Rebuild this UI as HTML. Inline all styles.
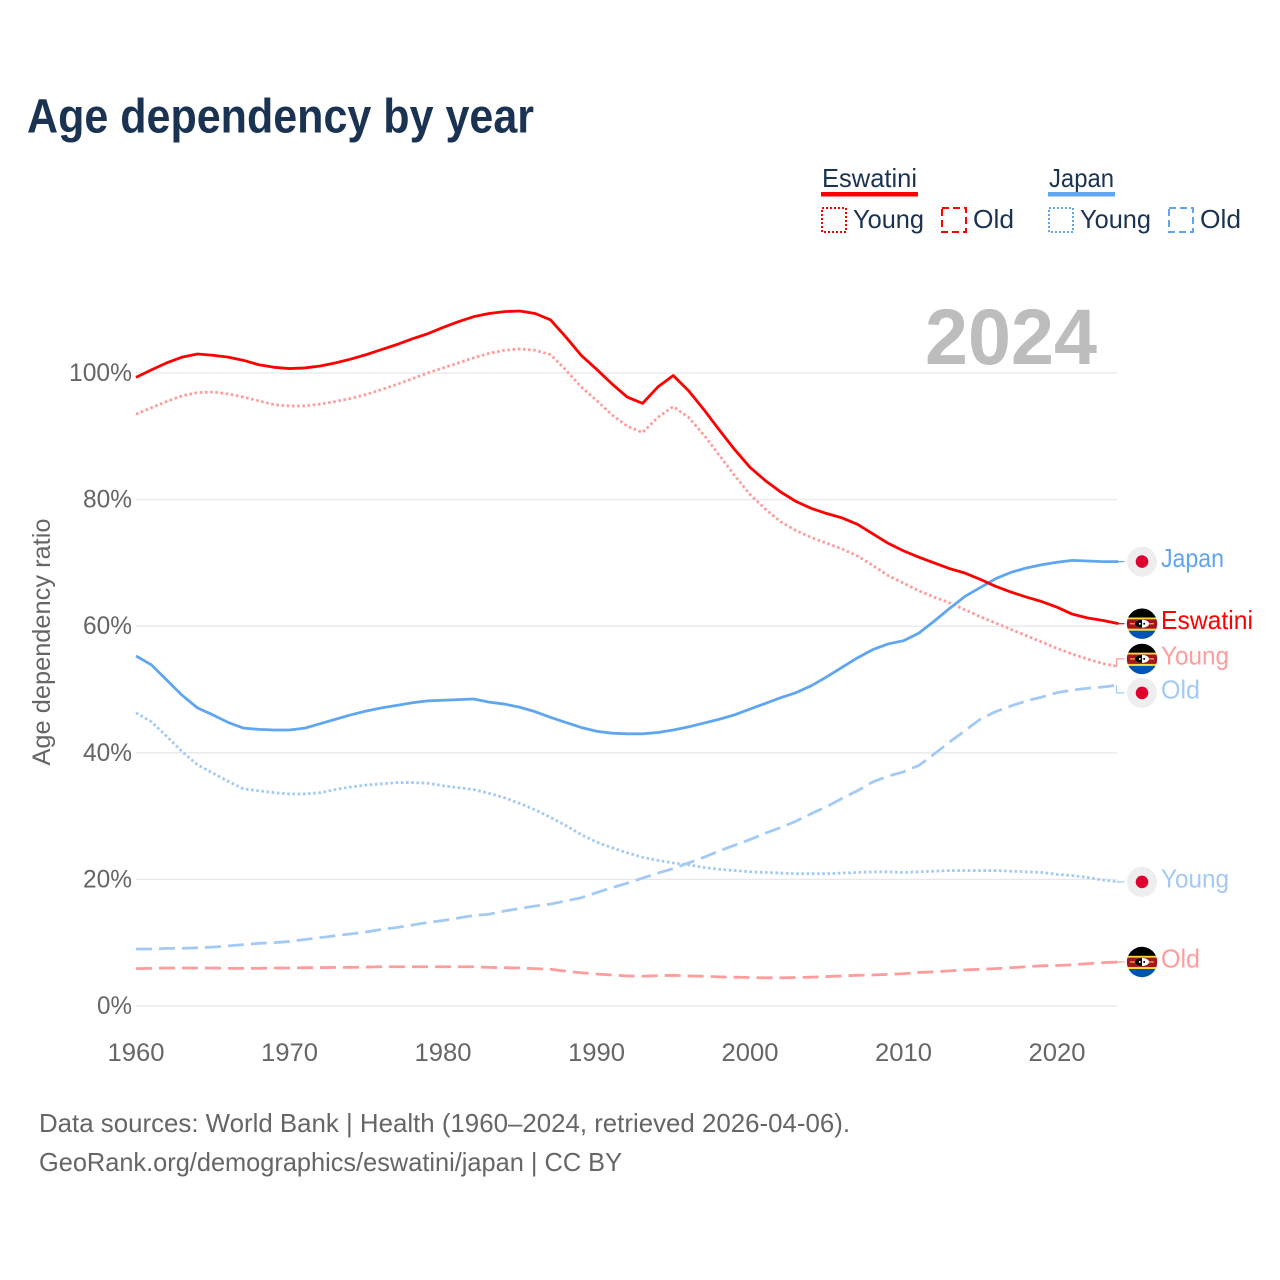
<!DOCTYPE html>
<html lang="en">
<head>
<meta charset="utf-8">
<title>Age dependency by year</title>
<style>
html,body{margin:0;padding:0;background:#fff;}
svg{display:block;font-family:"Liberation Sans",sans-serif;}
.title{font-weight:700;font-size:48px;fill:#1a3352;}
.legend{font-size:26px;fill:#1a3352;}
.tick{font-size:25px;fill:#666;}
.src{font-size:26px;fill:#666;}
.year{font-weight:700;font-size:79px;fill:#bdbdbd;}
.grid{stroke:#e8e8e8;stroke-width:1.3;}
.line{fill:none;stroke-width:2.8;stroke-linejoin:round;}
.conn{fill:none;stroke-width:1.2;}
</style>
</head>
<body>
<svg id="chart" xmlns="http://www.w3.org/2000/svg" width="1280" height="1280" viewBox="0 0 1280 1280">
  <rect width="1280" height="1280" fill="#fff"/>
  <text class="title" x="27" y="132.5" textLength="507" lengthAdjust="spacingAndGlyphs">Age dependency by year</text>

  <g>
    <g>
      <text class="legend" x="822" y="187" textLength="95" lengthAdjust="spacingAndGlyphs">Eswatini</text>
      <rect x="821" y="192" width="97" height="4.5" fill="#ff0000"/>
    </g>
    <g>
      <rect x="822" y="208" width="24" height="24" fill="none" stroke="#ff0000" stroke-width="2" stroke-dasharray="2 2"/>
      <text class="legend" x="853" y="228" textLength="71" lengthAdjust="spacingAndGlyphs">Young</text>
    </g>
    <g>
      <rect x="942" y="208" width="24" height="24" fill="none" stroke="#ff0000" stroke-width="2" stroke-dasharray="7 4"/>
      <text class="legend" x="973" y="228" textLength="41" lengthAdjust="spacingAndGlyphs">Old</text>
    </g>
    <g>
      <text class="legend" x="1049" y="187" textLength="65" lengthAdjust="spacingAndGlyphs">Japan</text>
      <rect x="1048" y="192" width="67" height="4.5" fill="#5fa5f0"/>
    </g>
    <g>
      <rect x="1049" y="208" width="24" height="24" fill="none" stroke="#5fa5f0" stroke-width="2" stroke-dasharray="2 2"/>
      <text class="legend" x="1080" y="228" textLength="71" lengthAdjust="spacingAndGlyphs">Young</text>
    </g>
    <g>
      <rect x="1169" y="208" width="24" height="24" fill="none" stroke="#5fa5f0" stroke-width="2" stroke-dasharray="7 4"/>
      <text class="legend" x="1200" y="228" textLength="41" lengthAdjust="spacingAndGlyphs">Old</text>
    </g>
  </g>

  <g id="grid-layer"></g>
  <g id="ytick-layer"></g>
  <g id="xtick-layer"></g>
  <text class="year" x="925" y="364" textLength="172" lengthAdjust="spacingAndGlyphs">2024</text>
  <text class="tick" transform="translate(50,642) rotate(-90)" text-anchor="middle" textLength="247" lengthAdjust="spacingAndGlyphs">Age dependency ratio</text>
  <g id="line-layer"></g>
  <g id="label-layer"></g>

  <text class="src" x="39" y="1132" textLength="811" lengthAdjust="spacingAndGlyphs">Data sources: World Bank | Health (1960–2024, retrieved 2026-04-06).</text>
  <text class="src" x="39" y="1171" textLength="583" lengthAdjust="spacingAndGlyphs">GeoRank.org/demographics/eswatini/japan | CC BY</text>
</svg>
<script>
const startYear = 1960;
const xTickYears = [1960, 1970, 1980, 1990, 2000, 2010, 2020];
const yTickValues = [0, 20, 40, 60, 80, 100];

const eswatiniTotal = [
  99.3,100.5,101.6,102.5,103.0,102.8,102.5,102.0,101.3,100.9,
  100.7,100.8,101.1,101.6,102.2,102.9,103.7,104.5,105.4,106.2,
  107.2,108.1,108.9,109.4,109.7,109.8,109.4,108.4,105.7,102.8,
  100.6,98.3,96.2,95.2,97.8,99.6,97.2,94.2,91.0,87.9,
  85.1,83.0,81.2,79.7,78.6,77.8,77.1,76.1,74.6,73.1,
  71.9,70.9,70.0,69.1,68.4,67.4,66.3,65.4,64.6,63.9,
  63.0,61.9,61.3,60.9,60.4
];
const eswatiniYoung = [
  93.5,94.5,95.5,96.4,96.9,97.0,96.7,96.2,95.6,95.0,
  94.8,94.8,95.1,95.5,96.0,96.6,97.4,98.2,99.1,100.0,
  100.8,101.6,102.4,103.1,103.6,103.8,103.6,102.9,100.5,97.8,
  95.7,93.4,91.6,90.6,93.0,94.7,93.0,90.2,87.0,83.8,
  80.8,78.5,76.5,75.1,74.0,73.1,72.2,71.1,69.6,68.0,
  66.8,65.6,64.6,63.7,62.6,61.5,60.5,59.5,58.5,57.5,
  56.5,55.6,54.8,54.1,53.6
];
const eswatiniOld = [
  5.9,5.95,6,6,6,6,5.95,5.95,5.95,6,
  6,6.05,6.05,6.1,6.1,6.15,6.2,6.2,6.2,6.2,
  6.2,6.2,6.2,6.1,6.05,6,5.9,5.8,5.5,5.25,
  5.05,4.9,4.75,4.7,4.8,4.85,4.75,4.7,4.6,4.55,
  4.5,4.45,4.45,4.5,4.55,4.65,4.75,4.85,4.9,5,
  5.1,5.3,5.4,5.55,5.7,5.8,5.9,6.05,6.2,6.35,
  6.4,6.5,6.7,6.85,6.95
];
const japanTotal = [
  55.3,53.9,51.5,49.1,47.1,46.0,44.8,43.9,43.7,43.6,
  43.6,43.9,44.6,45.3,46.0,46.6,47.1,47.5,47.9,48.2,
  48.3,48.4,48.5,48.0,47.7,47.2,46.5,45.6,44.8,44.0,
  43.4,43.1,43.0,43.0,43.2,43.6,44.1,44.7,45.3,46.0,
  46.9,47.8,48.7,49.5,50.6,52.0,53.5,55.0,56.3,57.2,
  57.7,58.9,60.8,62.8,64.7,66.1,67.5,68.5,69.2,69.7,
  70.1,70.4,70.3,70.2,70.2
];
const japanYoung = [
  46.3,44.9,42.6,40.2,38.1,36.8,35.5,34.3,34.0,33.7,
  33.5,33.5,33.7,34.2,34.6,34.9,35.1,35.3,35.3,35.2,
  34.8,34.5,34.2,33.6,32.9,32.0,31.0,29.8,28.5,27.1,
  25.9,25.0,24.2,23.5,23.0,22.6,22.3,21.9,21.6,21.4,
  21.2,21.1,21.0,20.9,20.9,20.9,21.0,21.1,21.2,21.2,
  21.1,21.2,21.3,21.4,21.4,21.4,21.4,21.3,21.2,21.1,
  20.8,20.6,20.3,19.9,19.6
];
const japanOld = [
  9.0,9.0,9.1,9.1,9.2,9.3,9.5,9.7,9.9,10.0,
  10.2,10.5,10.8,11.1,11.4,11.7,12.1,12.4,12.8,13.2,
  13.5,13.9,14.3,14.5,15.0,15.4,15.8,16.1,16.6,17.1,
  17.9,18.7,19.4,20.2,21.0,21.7,22.6,23.5,24.5,25.4,
  26.3,27.3,28.2,29.2,30.4,31.5,32.8,34.0,35.4,36.3,
  37.0,38.0,39.8,41.7,43.5,45.3,46.5,47.4,48.2,48.8,
  49.5,49.9,50.2,50.4,50.7
];

const series = [
  {name:'eswatini-old', label:'Old', values:eswatiniOld, color:'#ff9c9c', dash:'16 7', flag:'eswatini', w:39},
  {name:'eswatini-young', label:'Young', values:eswatiniYoung, color:'#ff9c9c', dash:'2.6 2.6', flag:'eswatini', w:68},
  {name:'japan-old', label:'Old', values:japanOld, color:'#a3caf5', dash:'16 7', flag:'japan', w:39},
  {name:'japan-young', label:'Young', values:japanYoung, color:'#a3caf5', dash:'2.6 2.6', flag:'japan', w:68},
  {name:'japan-total', label:'Japan', values:japanTotal, color:'#5fa5f0', dash:null, flag:'japan', w:63},
  {name:'eswatini-total', label:'Eswatini', values:eswatiniTotal, color:'#ff0000', dash:null, flag:'eswatini', w:92}
];

const NS = 'http://www.w3.org/2000/svg';
function xScale(year){ return 136 + (year - 1960) * 15.35; }
function yScale(v){ return 1006 - v * 6.33; }
function mk(tag, parent, attrs){
  const el = document.createElementNS(NS, tag);
  for (const k in attrs) el.setAttribute(k, attrs[k]);
  parent.appendChild(el);
  return el;
}

const gridLayer = document.getElementById('grid-layer');
const yTickLayer = document.getElementById('ytick-layer');
yTickValues.forEach(function(v){
  const ln = mk('line', gridLayer, {x1:136, x2:1117, y1:yScale(v), y2:yScale(v), class:'grid'});
  
  
  const t = mk('text', yTickLayer, {x:132, y:yScale(v) + 8, class:'tick', 'text-anchor':'end', textLength:(String(v).length * 14 + 21), lengthAdjust:'spacingAndGlyphs'});
  t.textContent = v + '%';
  
  
});

const xTickLayer = document.getElementById('xtick-layer');
xTickYears.forEach(function(y){
  const t = mk('text', xTickLayer, {x:xScale(y), y:1061, class:'tick', 'text-anchor':'middle', textLength:57, lengthAdjust:'spacingAndGlyphs'});
  t.textContent = y;
  
  
});

const lineLayer = document.getElementById('line-layer');
series.forEach(function(s){
  const pts = s.values.map(function(v, i){ return xScale(startYear + i).toFixed(2) + ',' + yScale(v).toFixed(2); });
  const attrs = {points:pts.join(' '), class:'line', stroke:s.color};
  if (s.dash) attrs['stroke-dasharray'] = s.dash;
  const pl = mk('polyline', lineLayer, attrs);
  
  
});

/* end-label layout: labels sit at their series' end value, pushed apart when they collide */
const minGap = 34;
const placed = series.map(function(s){
  const end = yScale(s.values[s.values.length - 1]);
  return {s:s, end:end, y:end};
}).sort(function(a, b){ return a.y - b.y; });
for (let iter = 0; iter < 40; iter++) {
  for (let i = 0; i < placed.length - 1; i++) {
    const gap = placed[i + 1].y - placed[i].y;
    if (gap < minGap) {
      const d = (minGap - gap) / 2;
      placed[i].y -= d;
      placed[i + 1].y += d;
    }
  }
}

function drawFlag(kind, parent, cx, cy){
  const g = mk('g', parent, {transform:'translate(' + cx + ',' + cy + ')'});
  
  
  if (kind === 'japan') {
    mk('circle', g, {r:15, fill:'#eeeeee'});
    mk('circle', g, {r:6.3, fill:'#e0002d'});
    return;
  }
  const clipId = 'clip-' + Math.round(cy);
  const cp = mk('clipPath', g, {id:clipId});
  mk('circle', cp, {r:15.2});
  const b = mk('g', g, {'clip-path':'url(#' + clipId + ')'});
  mk('rect', b, {x:-16, y:-16, width:32, height:10, fill:'#000000'});
  mk('rect', b, {x:-16, y:-6.2, width:32, height:2, fill:'#ffd83d'});
  mk('rect', b, {x:-16, y:-4.4, width:32, height:9.6, fill:'#a4161f'});
  mk('rect', b, {x:-16, y:5, width:32, height:2, fill:'#ffd83d'});
  mk('rect', b, {x:-16, y:7, width:32, height:9, fill:'#0052b4'});
  mk('rect', b, {x:-12, y:-0.7, width:24, height:1.4, fill:'#e8a13a'});
  mk('ellipse', b, {cx:0, cy:0, rx:7, ry:4, fill:'#ffffff'});
  mk('path', b, {d:'M0,-4 A7,4 0 0 0 0,4 Z', fill:'#000000'});
  mk('circle', b, {cx:-2.2, cy:0, r:1, fill:'#ffffff'});
  mk('circle', b, {cx:2.2, cy:0, r:1, fill:'#000000'});
}

const labelLayer = document.getElementById('label-layer');
placed.forEach(function(p){
  const s = p.s;
  const yL = Math.round(p.y * 10) / 10;
  const d = 'M1116.5,' + p.end.toFixed(1) + ' V' + yL + ' H1124.5';
  const c = mk('path', labelLayer, {d:d, class:'conn', stroke:s.color});
  
  
  drawFlag(s.flag, labelLayer, 1142, yL);
  const t = mk('text', labelLayer, {x:1161, y:yL + 5.5, 'font-size':26, fill:s.color, textLength:s.w, lengthAdjust:'spacingAndGlyphs'});
  t.textContent = s.label;
  
  
});
</script>
</body>
</html>
